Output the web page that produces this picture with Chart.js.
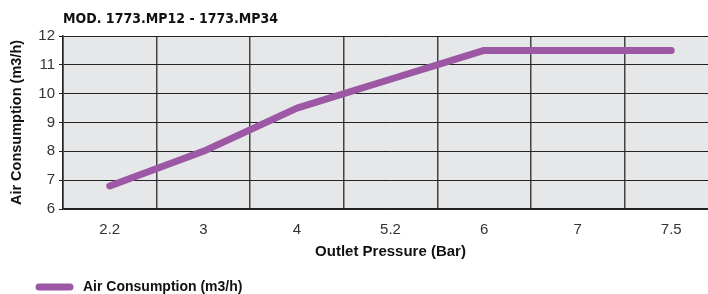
<!DOCTYPE html>
<html>
<head>
<meta charset="utf-8">
<script src="https://cdn.jsdelivr.net/npm/chart.js@4"></script>
<style>
  html, body { margin: 0; padding: 0; background: #fff; overflow: hidden; }
  #wrap { width: 718px; height: 294px; position: relative; }
</style>
</head>
<body>
<div id="wrap"><canvas id="airChart"></canvas></div>
<script>
const chartTitle = "MOD. 1773.MP12 - 1773.MP34";
const pressures = ["2.2", "3", "4", "5.2", "6", "7", "7.5"];
const consumption = [6.8, 8.0, 9.5, 10.5, 11.5, 11.5, 11.5];
const yTicks = [6, 7, 8, 9, 10, 11, 12];

const purple = "#9d58a5";
const sans = "'Liberation Sans', Arial, sans-serif";

// grey plot background, title and the legend line at the bottom
const plotDecor = {
    id: "plotDecor",
    beforeDraw(chart) {
        const {ctx, chartArea} = chart;
        ctx.save();
        ctx.fillStyle = "#e6e7e8";
        ctx.fillRect(chartArea.left, chartArea.top, chartArea.right - chartArea.left, chartArea.bottom - chartArea.top);
        ctx.restore();
    },
    afterDraw(chart) {
        const {ctx, chartArea} = chart;
        ctx.save();
        ctx.font = "bold 14px 'Liberation Sans Narrow', 'DejaVu Sans Condensed', sans-serif";
        ctx.fillStyle = "#111";
        ctx.textBaseline = "alphabetic";
        ctx.fillText(chartTitle, chartArea.left, 23);

        const ds = chart.data.datasets[0];
        ctx.strokeStyle = ds.borderColor;
        ctx.lineWidth = 7;
        ctx.lineCap = "round";
        ctx.beginPath();
        ctx.moveTo(39, 287);
        ctx.lineTo(70, 287);
        ctx.stroke();
        ctx.font = "bold 14px " + sans;
        ctx.fillStyle = "#111";
        ctx.textBaseline = "middle";
        ctx.fillText(ds.label, 83, 287);
        ctx.restore();
    },
};

document.addEventListener("DOMContentLoaded", function () {
    const ctx = document.getElementById("airChart").getContext("2d");
    new Chart(ctx, {
        type: "line",
        data: {
            labels: pressures,
            datasets: [{
                label: "Air Consumption (m3/h)",
                data: consumption,
                borderColor: purple,
                backgroundColor: purple,
                borderWidth: 7,
                borderCapStyle: "round",
                borderJoinStyle: "round",
                pointRadius: 0,
                tension: 0,
            }],
        },
        options: {
            responsive: true,
            maintainAspectRatio: false,
            animation: false,
            layout: {padding: {top: 36, left: 4, right: 0, bottom: 0}},
            plugins: {
                legend: {display: false},
                tooltip: {enabled: false},
            },
            scales: {
                x: {
                    offset: true,
                    grid: {offset: true, color: "#444", lineWidth: 1.5, drawTicks: false},
                    border: {color: "#222", width: 1.5},
                    ticks: {
                        padding: 12,
                        color: "#333",
                        font: {family: sans, size: 15},
                    },
                    title: {
                        display: true,
                        text: "Outlet Pressure (Bar)",
                        color: "#111",
                        padding: {top: 4, bottom: 33},
                        font: {family: sans, size: 15, weight: "bold"},
                    },
                    afterFit(scale) { scale.height = 85; },
                },
                y: {
                    min: 6,
                    max: 12,
                    afterBuildTicks(scale) { scale.ticks = yTicks.map(v => ({value: v})); },
                    grid: {color: "#222", lineWidth: 1, tickLength: 4},
                    border: {color: "#222", width: 1.5},
                    ticks: {
                        padding: 4,
                        color: "#333",
                        font: {family: sans, size: 15},
                    },
                    title: {
                        display: true,
                        text: "Air Consumption (m3/h)",
                        color: "#111",
                        padding: {top: 4, bottom: 0},
                        font: {family: sans, size: 14.5, weight: "bold"},
                    },
                    afterFit(scale) { scale.width = 59; },
                },
            },
        },
        plugins: [plotDecor],
    });
});
</script>
</body>
</html>
